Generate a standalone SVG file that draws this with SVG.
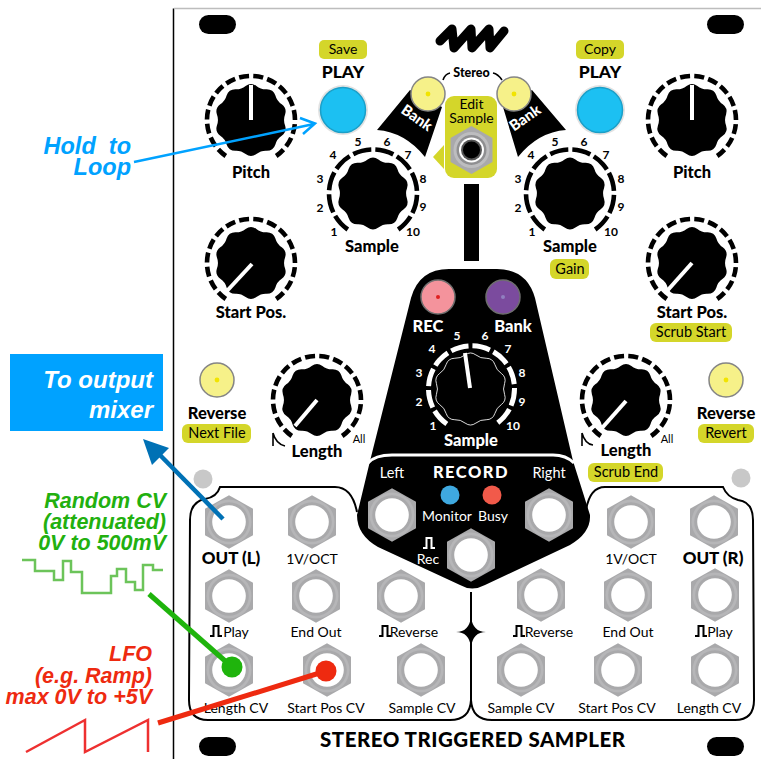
<svg xmlns="http://www.w3.org/2000/svg" xmlns:xlink="http://www.w3.org/1999/xlink" width="761" height="759" viewBox="0 0 761 759">
<style>
text{font-family:"Lato","Open Sans","Liberation Sans",sans-serif;text-anchor:middle;fill:#000}
.b{font-weight:900}
.lb{font-size:16.5px;font-weight:900}
.j{font-size:14px}
.n{font-size:12px;font-weight:700}
.w{fill:#fff}
.y{fill:#d4d62a}
.yt{font-size:14.5px}
.note{font-family:"Liberation Sans",Arial,sans-serif;font-style:italic;font-weight:700;text-anchor:end}
.bl{fill:#00a2ff}.gr{fill:#22b00f}.rd{fill:#ee2a10}
.mark{fill:none;stroke:#000;stroke-width:1.6}
.ph{fill:none;stroke:#000;stroke-width:2}
.pw{fill:none;stroke:#fff;stroke-width:2}
.pl{fill:none;stroke:#000;stroke-width:2}
</style>
<defs>
<path id="lobes" transform="rotate(-9)" d="M0,-34.5 Q5.94,-37.53 10.66,-32.81 Q14.53,-28.51 20.28,-27.91 Q26.87,-26.87 27.91,-20.28 Q28.51,-14.53 32.81,-10.66 Q37.53,-5.94 34.5,0 Q31.61,5.01 32.81,10.66 Q33.86,17.25 27.91,20.28 Q22.63,22.63 20.28,27.91 Q17.25,33.86 10.66,32.81 Q5.01,31.61 0,34.5 Q-5.94,37.53 -10.66,32.81 Q-14.53,28.51 -20.28,27.91 Q-26.87,26.87 -27.91,20.28 Q-28.51,14.53 -32.81,10.66 Q-37.53,5.94 -34.5,0 Q-31.61,-5.01 -32.81,-10.66 Q-33.86,-17.25 -27.91,-20.28 Q-22.63,-22.63 -20.28,-27.91 Q-17.25,-33.86 -10.66,-32.81 Q-5.01,-31.61 0,-34.5Z"/>
<g id="knob">
<use xlink:href="#lobes" href="#lobes" fill="#000"/>
<path d="M-25.2,36 A44,44 0 1 1 25.2,36" fill="none" stroke="#000" stroke-width="4.600" stroke-dasharray="10 4.180"/>
</g>
<g id="sknob">
<use xlink:href="#lobes" href="#lobes" fill="#000"/>
<path d="M-25.2,36 A44,44 0 1 1 25.2,36" fill="none" stroke="#000" stroke-width="4.600" stroke-dasharray="18.7 4"/>
</g>
<g id="jack">
<polygon points="0,-26.7 24,-13.35 24,13.35 0,26.7 -24,13.35 -24,-13.35" fill="#a9a9ab"/>
<circle r="22.5" fill="#b6b6b8"/>
<circle r="19.8" fill="#a9a9ab"/>
<circle r="16.8" fill="#fff"/>
</g>
<g id="led">
<circle r="17" fill="#f6f189" stroke="#858585" stroke-width="1.5"/>
<circle r="2.4" fill="#f2e400"/>
</g>
<g id="btn">
<circle r="25" fill="#e2e2e2"/>
<circle r="22.5" fill="#1cc0f2" stroke="#1a9fc8" stroke-width="1.5"/>
</g>
<path id="pulse" d="M0,10 H3.5 V0 H8.5 V10 H12"/>
</defs>

<rect width="761" height="759" fill="#fff"/>

<g id="panel">
<path d="M173.500,8.500 V759" fill="none" stroke="#000" stroke-width="1.500"/>
<path d="M174,8.500 H761" fill="none" stroke="#bdbdbd" stroke-width="1.500"/>
<rect x="199" y="15" width="37" height="19" rx="9.500"/>
<rect x="707" y="15" width="37" height="19" rx="9.500"/>
<rect x="199" y="737" width="37" height="19" rx="9.500"/>
<rect x="707" y="737" width="37" height="19" rx="9.500"/>
<circle cx="203" cy="479" r="9.500" fill="#c8c8c8"/>
<circle cx="741" cy="478" r="9.500" fill="#c8c8c8"/>
<rect x="464" y="184" width="15" height="77"/>
<path d="M357,512 Q352,487 335,487 L220,487 Q217,497 205,499 Q190,502 190,520 L189,700 Q189,720 208,720 L450,720 Q470,720 471,700 L471,592" class="pl"/>
<path d="M586,510 Q590,487 605,487 L723,487 Q727,497 738,500 Q753,502 753,520 L754,700 Q754,720 735,720 L492,720 Q472,720 471,700" class="pl"/>
<path d="M456,632 Q469,632 471,617 Q473,632 486,632 Q473,632 471,647 Q469,632 456,632Z"/>
<text x="472.500" y="747" style="font-size:20.500px;font-weight:900" textLength="305" lengthAdjust="spacing">STEREO TRIGGERED SAMPLER</text>
</g>

<g id="logo">
<path d="M440,41 L452,29 L454,48 L471,29 L472,48 L489,29 L490,48 L504,31" fill="none" stroke="#000" stroke-width="9" stroke-linecap="round" stroke-linejoin="round"/>
</g>

<g id="pitch-l"><use href="#knob" x="251" y="120"/><path d="M251,85 V120" stroke="#fff" stroke-width="4"/><text class="lb" x="251" y="178">Pitch</text></g>
<g id="pitch-r"><use href="#knob" x="692" y="120"/><path d="M692,85 V120" stroke="#fff" stroke-width="4"/><text class="lb" x="692" y="178">Pitch</text></g>
<g id="start-l"><use href="#knob" x="251" y="263"/><path d="M252,264 L226,292" stroke="#fff" stroke-width="4"/><text class="lb" x="251" y="318">Start Pos.</text></g>
<g id="start-r"><use href="#knob" x="692" y="263"/><path d="M692,263 L667,291" stroke="#fff" stroke-width="4"/><text class="lb" x="692" y="318">Start Pos.</text></g>
<g id="start-r-alt"><rect class="y" x="650" y="323" width="82" height="19" rx="6"/><text class="yt" x="691" y="337">Scrub Start</text></g>
<g id="length-l"><use href="#knob" x="317" y="400"/><path d="M317,400 L295,426" stroke="#fff" stroke-width="4"/><path class="mark" d="M273,433 V446 M273,433 Q276,444 285,446"/><text class="lb" x="317" y="457">Length</text><text x="359" y="443" style="font-size:11px">All</text></g>
<g id="length-r"><use href="#knob" x="626" y="400"/><path d="M626,401 L602,428" stroke="#fff" stroke-width="4"/><path class="mark" d="M582,433 V446 M582,433 Q585,444 593,445"/><text class="lb" x="626" y="456">Length</text><text x="667" y="443" style="font-size:11px">All</text></g>
<g id="length-r-alt"><rect class="y" x="588" y="463" width="75" height="19" rx="6"/><text class="yt" x="626" y="477">Scrub End</text></g>

<g id="sample-l"><use href="#sknob" x="373" y="193.500"/>
<text class="n" x="334" y="236">1</text><text class="n" x="320" y="212">2</text><text class="n" x="320" y="183">3</text><text class="n" x="333" y="159">4</text><text class="n" x="358" y="146">5</text><text class="n" x="387" y="146">6</text><text class="n" x="408" y="159">7</text><text class="n" x="423" y="183">8</text><text class="n" x="423" y="211">9</text><text class="n" x="413" y="236">10</text>
<text class="lb" x="372" y="252">Sample</text></g>
<g id="sample-r"><use href="#sknob" x="570" y="193.500"/>
<text class="n" x="532" y="236">1</text><text class="n" x="518" y="212">2</text><text class="n" x="518" y="183">3</text><text class="n" x="531" y="159">4</text><text class="n" x="555" y="146">5</text><text class="n" x="584" y="146">6</text><text class="n" x="606" y="159">7</text><text class="n" x="621" y="183">8</text><text class="n" x="621" y="211">9</text><text class="n" x="611" y="236">10</text>
<text class="lb" x="570" y="252">Sample</text></g>
<g id="sample-r-alt"><rect class="y" x="550" y="259" width="39" height="20" rx="6"/><text class="yt" x="570" y="274">Gain</text></g>

<g id="play-l"><rect class="y" x="319" y="40" width="48" height="19" rx="5"/><text class="yt" x="343" y="54" style="font-size:14px">Save</text><text class="b" x="343" y="78" style="font-size:17.500px">PLAY</text><use href="#btn" x="343" y="110"/></g>
<g id="play-r"><rect class="y" x="576" y="40" width="48" height="19" rx="5"/><text class="yt" x="600" y="54" style="font-size:14px">Copy</text><text class="b" x="600" y="78" style="font-size:17.500px">PLAY</text><use href="#btn" x="600" y="110"/></g>

<g id="bank-l"><path d="M377,130 L410,90 L442,107 L425,157 Q405,132 377,130Z"/><text class="b w" transform="translate(414 122) rotate(35)" style="font-size:15px">Bank</text><use href="#led" x="428" y="94"/></g>
<g id="bank-r"><path d="M566,130 L532,90 L503,107 L518,157 Q538,132 566,130Z"/><text class="b w" transform="translate(528 122) rotate(-35)" style="font-size:15px">Bank</text><use href="#led" x="514" y="94"/></g>
<g id="stereo"><text class="b" x="471.500" y="77" style="font-size:12.500px">Stereo</text><path class="mark" d="M443,80 Q445,74 450,73 M493,73 Q498,74 502,80"/></g>

<g id="edit-sample">
<rect class="y" x="445" y="96" width="52" height="82" rx="9"/>
<polygon class="y" points="433,157 444,145 444,169"/>
<text x="471.500" y="109" style="font-size:14px">Edit</text><text x="471.500" y="123" style="font-size:14px">Sample</text>
<polygon points="471.500,126 492.500,138 492.500,162 471.500,174 450.500,162 450.500,138" fill="#a9a9ab"/>
<circle cx="471.500" cy="150" r="18" fill="#bdbdbf"/><circle cx="471.500" cy="150" r="15" fill="#8f8f91"/><circle cx="471.500" cy="150" r="12.500" fill="#fff"/><circle cx="471.500" cy="150" r="10.500" fill="#555"/><circle cx="471.500" cy="150" r="8.500" fill="#000"/>
</g>

<g id="record-module">
<path d="M370,461 L411,298 Q419,269 449,269 L497,269 Q527,269 535,298 L573,461 L590,515 Q591,533 570,545 L485,585 Q472,592 460,585 L378,547 Q357,535 357,515Z"/>
<path d="M368,463 Q375,455 392,455 L553,455 Q566,455 574,463" fill="none" stroke="#fff" stroke-width="3"/>
<circle cx="438" cy="297" r="17" fill="#f4939c" stroke="#6e6e6e" stroke-width="1.500"/><circle cx="438" cy="297" r="2" fill="#e02020"/>
<circle cx="503" cy="297" r="17" fill="#7b4b9e" stroke="#6e6e6e" stroke-width="1.500"/><circle cx="503" cy="297" r="2" fill="#9080c0"/>
<text class="lb w" x="428" y="332">REC</text><text class="lb w" x="513" y="332">Bank</text>
<use href="#lobes" x="470.500" y="389" fill="none" stroke="#fff" stroke-width="0.800"/>
<path d="M446.800,424 A43,43 0 1 1 496.200,424" fill="none" stroke="#fff" stroke-width="5" stroke-dasharray="18 3.900"/>
<path d="M465,353 L470,388" stroke="#fff" stroke-width="4"/>
<text class="n w" x="433" y="430">1</text><text class="n w" x="419" y="406">2</text><text class="n w" x="419" y="377">3</text><text class="n w" x="432" y="353">4</text><text class="n w" x="457" y="340">5</text><text class="n w" x="485" y="340">6</text><text class="n w" x="508" y="353">7</text><text class="n w" x="522" y="377">8</text><text class="n w" x="522" y="406">9</text><text class="n w" x="513" y="430">10</text>
<text class="lb w" x="471" y="446">Sample</text>
<text class="w" x="392" y="478" style="font-size:14.500px">Left</text>
<text class="w" x="549" y="478" style="font-size:14.500px">Right</text>
<text class="b w" x="471" y="478" style="font-size:16.500px;letter-spacing:1.500px">RECORD</text>
<circle cx="450" cy="495" r="9.500" fill="#3fa9e0"/><circle cx="492" cy="495" r="9.500" fill="#f15a4a"/>
<text class="w" x="447" y="521" style="font-size:14px">Monitor</text><text class="w" x="493" y="521" style="font-size:14px">Busy</text>
<use class="pw" href="#pulse" x="423" y="538"/>
<text class="w" x="428" y="564" style="font-size:14px">Rec</text>
<use href="#jack" x="392" y="515"/><use href="#jack" x="549" y="515"/><use href="#jack" x="471" y="555"/>
</g>

<g id="reverse-l"><use href="#led" x="217" y="380"/><text class="lb" x="217" y="419">Reverse</text><rect class="y" x="182" y="424" width="69" height="19" rx="6"/><text class="yt" x="217" y="438">Next File</text></g>
<g id="reverse-r"><use href="#led" x="726" y="380"/><text class="lb" x="726" y="419">Reverse</text><rect class="y" x="698" y="424" width="56" height="19" rx="6"/><text class="yt" x="726" y="438">Revert</text></g>

<g id="jack-out-l"><use href="#jack" x="229" y="522"/><text class="b" x="231" y="564" style="font-size:17px">OUT (L)</text></g>
<g id="jack-voct-l"><use href="#jack" x="312" y="522"/><text class="j" x="312" y="564">1V/OCT</text></g>
<g id="jack-play-l"><use href="#jack" x="229" y="596"/><use class="ph" href="#pulse" x="210" y="626"/><text class="j" x="236" y="637">Play</text></g>
<g id="jack-end-l"><use href="#jack" x="316" y="596"/><text class="j" x="316" y="637">End Out</text></g>
<g id="jack-rev-l"><use href="#jack" x="401" y="596"/><use class="ph" href="#pulse" x="379" y="626"/><text class="j" x="414" y="637">Reverse</text></g>
<g id="jack-length-l"><use href="#jack" x="229" y="670"/><text class="j" x="236" y="713">Length CV</text></g>
<g id="jack-start-l"><use href="#jack" x="327" y="670"/><text class="j" x="326" y="713">Start Pos CV</text></g>
<g id="jack-sample-l"><use href="#jack" x="421" y="670"/><text class="j" x="422" y="713">Sample CV</text></g>
<g id="jack-voct-r"><use href="#jack" x="631" y="522"/><text class="j" x="631" y="564">1V/OCT</text></g>
<g id="jack-out-r"><use href="#jack" x="714" y="522"/><text class="b" x="713" y="564" style="font-size:17px">OUT (R)</text></g>
<g id="jack-rev-r"><use href="#jack" x="541" y="595"/><use class="ph" href="#pulse" x="513" y="626"/><text class="j" x="549" y="637">Reverse</text></g>
<g id="jack-end-r"><use href="#jack" x="628" y="595"/><text class="j" x="628" y="637">End Out</text></g>
<g id="jack-play-r"><use href="#jack" x="715" y="595"/><use class="ph" href="#pulse" x="695" y="626"/><text class="j" x="720" y="637">Play</text></g>
<g id="jack-sample-r"><use href="#jack" x="521" y="670"/><text class="j" x="521" y="713">Sample CV</text></g>
<g id="jack-start-r"><use href="#jack" x="618" y="670"/><text class="j" x="617" y="713">Start Pos CV</text></g>
<g id="jack-length-r"><use href="#jack" x="715" y="670"/><text class="j" x="709" y="713">Length CV</text></g>

<g id="note-hold"><text class="note bl" x="131" y="154" style="font-size:23.500px;white-space:pre">Hold  to</text><text class="note bl" x="131" y="175" style="font-size:23.500px">Loop</text></g>
<g id="note-output"><rect x="10" y="354" width="153" height="77" fill="#00a2ff"/><text class="note w" x="153" y="388" style="font-size:24px">To output</text><text class="note w" x="153" y="418" style="font-size:24px">mixer</text></g>
<g id="note-random"><text class="note gr" x="166" y="508" style="font-size:21.500px">Random CV</text><text class="note gr" x="166" y="529" style="font-size:21.500px">(attenuated)</text><text class="note gr" x="166" y="550" style="font-size:21.500px">0V to 500mV</text>
<path d="M22,560 H35 V571 H54 V580 H63 V561 H71 V572 H82 V593 H111 V576 H117 V569 H126 V582 H135 V590 H143 V565 H153 V570 H163" fill="none" stroke="#6cc45a" stroke-width="2.500"/></g>
<g id="note-lfo"><text class="note rd" x="152" y="661" style="font-size:21.500px">LFO</text><text class="note rd" x="152" y="683" style="font-size:21.500px">(e.g. Ramp)</text><text class="note rd" x="152" y="704" style="font-size:21.500px">max 0V to +5V</text>
<path d="M26,752 L85,720 V752 L148,720 V752" fill="none" stroke="#ee3030" stroke-width="2.500"/></g>

<g id="connectors">
<path d="M134,162 L314,124 M300,118 L315,123.500 L303,134" fill="none" stroke="#00a2ff" stroke-width="2.500"/>
<path d="M223,519 L157,452" stroke="#0071b5" stroke-width="4.500"/>
<polygon points="143,439 169,448 152,465" fill="#0071b5"/>
<path d="M149,594 L232,667" stroke="#1fb40c" stroke-width="5"/>
<circle cx="232" cy="667" r="10.500" fill="#1fb40c"/>
<path d="M158,723 L326,671" stroke="#ee2a10" stroke-width="5"/>
<circle cx="326" cy="671" r="10.500" fill="#ee2a10"/>
</g>
</svg>
